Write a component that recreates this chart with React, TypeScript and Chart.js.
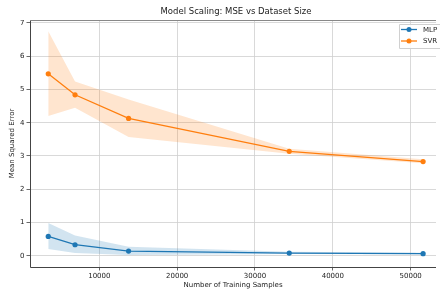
import React, { useEffect, useRef } from "react";
import { Chart, registerables } from "chart.js";

Chart.register(...registerables);

const samples = [3440, 6880, 13760, 34400, 51600];
const mlpMean = [0.58, 0.33, 0.14, 0.08, 0.06];
const mlpLower = [0.2, 0.08, 0.02, 0.05, 0.04];
const mlpUpper = [0.98, 0.61, 0.27, 0.12, 0.09];
const svrMean = [5.47, 4.84, 4.13, 3.14, 2.83];
const svrLower = [4.2, 4.45, 3.57, 3.07, 2.78];
const svrUpper = [6.75, 5.24, 4.7, 3.22, 2.9];
const xTicks = [10000, 20000, 30000, 40000, 50000];
const yTicks = [0, 1, 2, 3, 4, 5, 6, 7];

const BLUE = "#1f77b4";
const ORANGE = "#ff7f0e";
const FONT = "'DejaVu Sans', sans-serif";

const pts = (ys: number[]) => samples.map((x, i) => ({ x, y: ys[i] }));

export default function App() {
  const ref = useRef<HTMLCanvasElement | null>(null);
  useEffect(() => {
    if (!ref.current) return;
    const band = (data: number[], color: string, fill: any) => ({
      label: "",
      data: pts(data),
      borderWidth: 0,
      pointRadius: 0,
      backgroundColor: color,
      fill,
      tension: 0,
    });
    const deco = {
      id: "deco",
      afterDraw(chart: any) {
        const { ctx, chartArea: a } = chart;
        ctx.save();
        // spines
        ctx.strokeStyle = "#444";
        ctx.lineWidth = 1;
        ctx.beginPath();
        ctx.moveTo(a.left + 0.5, a.top);
        ctx.lineTo(a.left + 0.5, a.bottom + 0.5);
        ctx.lineTo(a.right, a.bottom + 0.5);
        ctx.stroke();
        ctx.strokeStyle = "#888";
        ctx.beginPath();
        ctx.moveTo(a.left, a.top + 0.5);
        ctx.lineTo(a.right, a.top + 0.5);
        ctx.stroke();
        // title
        ctx.fillStyle = "#222";
        ctx.font = `8.5px ${FONT}`;
        ctx.textAlign = "center";
        ctx.textBaseline = "middle";
        ctx.fillText("Model Scaling: MSE vs Dataset Size", 236, 12);
        // legend
        const lx = 399.5, ly = 24.5, lw = 45, lh = 24;
        ctx.fillStyle = "rgba(255,255,255,0.85)";
        ctx.strokeStyle = "#d0d0d0";
        ctx.lineWidth = 1;
        ctx.beginPath();
        ctx.rect(lx, ly, lw, lh);
        ctx.fill();
        ctx.stroke();
        const items = [
          ["MLP", BLUE, 29.5],
          ["SVR", ORANGE, 41],
        ] as [string, string, number][];
        ctx.font = `7px ${FONT}`;
        ctx.textAlign = "left";
        for (const [t, c, y] of items) {
          ctx.strokeStyle = c;
          ctx.lineWidth = 1.3;
          ctx.beginPath();
          ctx.moveTo(401, y);
          ctx.lineTo(417, y);
          ctx.stroke();
          ctx.fillStyle = c;
          ctx.beginPath();
          ctx.arc(409, y, 2.5, 0, Math.PI * 2);
          ctx.fill();
          ctx.fillStyle = "#222";
          ctx.fillText(t, 423, y + 0.5);
        }
        ctx.restore();
      },
    };
    const chart = new Chart(ref.current, {
      type: "line",
      data: {
        datasets: [
          band(mlpLower, "rgba(31,119,180,0.2)", false),
          band(mlpUpper, "rgba(31,119,180,0.2)", "-1"),
          band(svrLower, "rgba(255,127,14,0.2)", false),
          band(svrUpper, "rgba(255,127,14,0.2)", "-1"),
          {
            label: "MLP",
            data: pts(mlpMean),
            borderColor: BLUE,
            backgroundColor: BLUE,
            borderWidth: 1.3,
            pointRadius: 2.6,
            pointBorderWidth: 0,
            fill: false,
            tension: 0,
          },
          {
            label: "SVR",
            data: pts(svrMean),
            borderColor: ORANGE,
            backgroundColor: ORANGE,
            borderWidth: 1.3,
            pointRadius: 2.6,
            pointBorderWidth: 0,
            fill: false,
            tension: 0,
          },
        ] as any,
      },
      options: {
        animation: false,
        responsive: false,
        layout: { padding: { top: 20, right: 0, left: 0, bottom: 0 } },
        plugins: {
          legend: { display: false },
          title: { display: false },
          tooltip: { enabled: false },
        },
        scales: {
          x: {
            type: "linear",
            min: 1094,
            max: 53257,
            afterBuildTicks: (s: any) => {
              s.ticks = xTicks.map((v) => ({ value: v }));
            },
            afterFit: (s: any) => {
              s.height = 23;
            },
            border: { display: false },
            grid: {
              color: "#cfcfcf",
              lineWidth: 0.8,
              tickColor: "#444",
              tickLength: 3.5,
            },
            ticks: {
              color: "#222",
              font: { family: FONT, size: 7 },
              padding: 1,
              maxRotation: 0,
              callback: (v: any) => String(v),
            },
            title: {
              display: true,
              text: "Number of Training Samples",
              color: "#222",
              font: { family: FONT, size: 7 },
              padding: { top: 0, bottom: 0.5 },
            },
          },
          y: {
            type: "linear",
            min: -0.34,
            max: 7.09,
            afterBuildTicks: (s: any) => {
              s.ticks = yTicks.map((v) => ({ value: v }));
            },
            afterFit: (s: any) => {
              s.width = 30;
            },
            border: { display: false },
            grid: {
              color: "#cfcfcf",
              lineWidth: 0.8,
              tickColor: "#444",
              tickLength: 3.5,
            },
            ticks: {
              color: "#222",
              font: { family: FONT, size: 7 },
              padding: 2,
              callback: (v: any) => String(v),
            },
            title: {
              display: true,
              text: "Mean Squared Error",
              color: "#222",
              font: { family: FONT, size: 7 },
              padding: { top: 8, bottom: 0 },
            },
          },
        },
      },
      plugins: [deco],
    });
    return () => chart.destroy();
  }, []);
  return (
    <div style={{ position: "absolute", left: 0, top: 0, width: 440, height: 290, background: "#fff" }}>
      <canvas ref={ref} width={440} height={290} />
    </div>
  );
}
